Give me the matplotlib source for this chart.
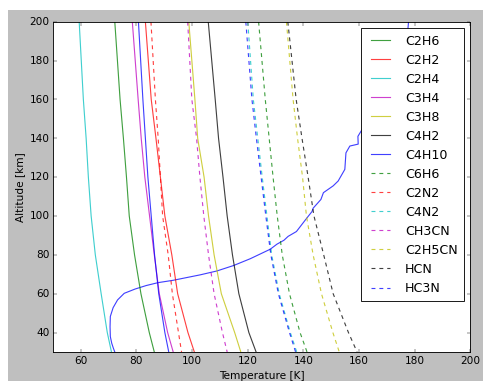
import matplotlib
matplotlib.use("Agg")
import matplotlib.pyplot as plt
from matplotlib.patches import Rectangle

plt.style.use('classic')
plt.rcParams['font.family'] = ['DejaVu Sans']

# ---- data ----
altitude = [200, 160, 140, 120, 100, 80, 60, 40, 30]

C2H6 = [72.2, 74.1, 75.3, 76.4, 77.4, 79.3, 81.6, 84.6, 86.4]
C2H2 = [83.2, 85.3, 87.0, 88.6, 90.2, 92.7, 94.8, 98.5, 100.8]
C2H4 = [59.4, 60.9, 61.9, 62.7, 63.7, 65.2, 67.3, 69.5, 71.0]
C3H4 = [78.5, 80.6, 81.7, 83.0, 84.7, 86.4, 88.2, 91.2, 93.2]
C3H8 = [98.8, 101.0, 102.0, 104.3, 105.9, 107.9, 110.5, 115.3, 117.5]
C4H2 = [105.8, 108.3, 109.5, 111.1, 112.6, 114.5, 116.8, 120.4, 123.0]
C4H10 = [80.7, 82.3, 83.2, 84.1, 85.3, 86.5, 88.0, 90.2, 91.6]

C6H6 = [123.9, 126.3, 127.7, 129.1, 130.6, 132.4, 135.0, 138.8, 141.3]
C2N2 = [85.2, 86.8, 87.8, 88.6, 89.4, 91.4, 92.9, 95.1, 96.2]
C4N2 = [120.0, 122.0, 123.6, 125.2, 126.9, 128.6, 131.3, 135.3, 137.6]
CH3CN = [98.4, 99.9, 101.6, 102.8, 104.2, 105.9, 107.9, 110.9, 112.6]
C2H5CN = [133.9, 136.3, 137.9, 139.7, 141.1, 143.5, 146.5, 150.6, 152.9]
HCN = [134.4, 137.4, 139.5, 141.7, 143.8, 147.3, 150.7, 156.2, 159.3]
HC3N = [119.3, 121.5, 123.1, 124.8, 126.5, 128.3, 131.0, 135.0, 137.2]

# temperature profile
profile_alt = [30, 31.9, 34.5, 37.9, 43, 48.3, 52.8, 56.8, 60.2, 62.4, 64.2, 65.7,
               66.9, 68.0, 69.7, 71.7, 74.5, 78.0, 82.9, 85.5, 87.5, 89.5, 92.0,
               98.5, 102.3, 104.0, 108.5, 112.0, 115.5, 118.0, 124.0, 132.5, 136.0,
               137.0, 141.0, 145.0, 155, 165, 175, 185, 195, 200]
profile_T = [72.2, 71.7, 71.1, 70.6, 70.5, 70.6, 71.6, 73.2, 75.6, 79.5, 83.5, 87.8,
             93.2, 97.0, 102.9, 108.9, 114.9, 120.9, 128.1, 130.5, 133.0, 134.5, 137.5,
             141.0, 143.1, 143.5, 146.3, 147.2, 150.7, 152.5, 154.9, 155.3, 156.7,
             159.7, 159.6, 161.3, 165.0, 168.5, 172.0, 175.0, 177.5, 177.8]

solid_names = ['C2H6', 'C2H2', 'C2H4', 'C3H4', 'C3H8', 'C4H2', 'C4H10']
solid_data = [C2H6, C2H2, C2H4, C3H4, C3H8, C4H2, C4H10]
dashed_names = ['C6H6', 'C2N2', 'C4N2', 'CH3CN', 'C2H5CN', 'HCN', 'HC3N']
dashed_data = [C6H6, C2N2, C4N2, CH3CN, C2H5CN, HCN, HC3N]
colors = ['g', 'r', 'c', 'm', 'y', 'k', 'b']

xticks = [60, 80, 100, 120, 140, 160, 180, 200]
yticks = [40, 60, 80, 100, 120, 140, 160, 180, 200]

# ---- figure ----
DPI = 63
W, H = 483, 381
fig = plt.figure(figsize=((W + 0.3) / DPI, (H + 0.3) / DPI), dpi=DPI, facecolor='white')
fig.patches.append(Rectangle((8 / W, 0), 1 - 8 / W, (H - 10) / H, transform=fig.transFigure,
                             facecolor='0.75', edgecolor='none', zorder=-10))
ax = fig.add_axes([53 / W, (H - 352) / H, 417 / W, 330 / H])

alpha = 0.75
lw = 1.3
ax.plot(profile_T, profile_alt, color='b', alpha=alpha, lw=lw)
for name, data, c in zip(solid_names, solid_data, colors):
    ax.plot(data, altitude, color=c, ls='-', alpha=alpha, lw=lw, label=name)
for name, data, c in zip(dashed_names, dashed_data, colors):
    ax.plot(data, altitude, color=c, ls='--', alpha=alpha, lw=lw, label=name,
            dashes=(4.5, 4.5))

ax.set_xlim(50, 200)
ax.set_ylim(30, 200)
ax.set_xticks(xticks)
ax.set_yticks(yticks)
ax.set_xlabel('Temperature [K]', labelpad=6)
ax.set_ylabel('Altitude [km]')

ax.legend(loc='upper right', handlelength=2.1, handletextpad=0.9,
          borderaxespad=0.5, labelspacing=0.48, borderpad=0.5)

fig.savefig('out.png', dpi=DPI, facecolor='white')
